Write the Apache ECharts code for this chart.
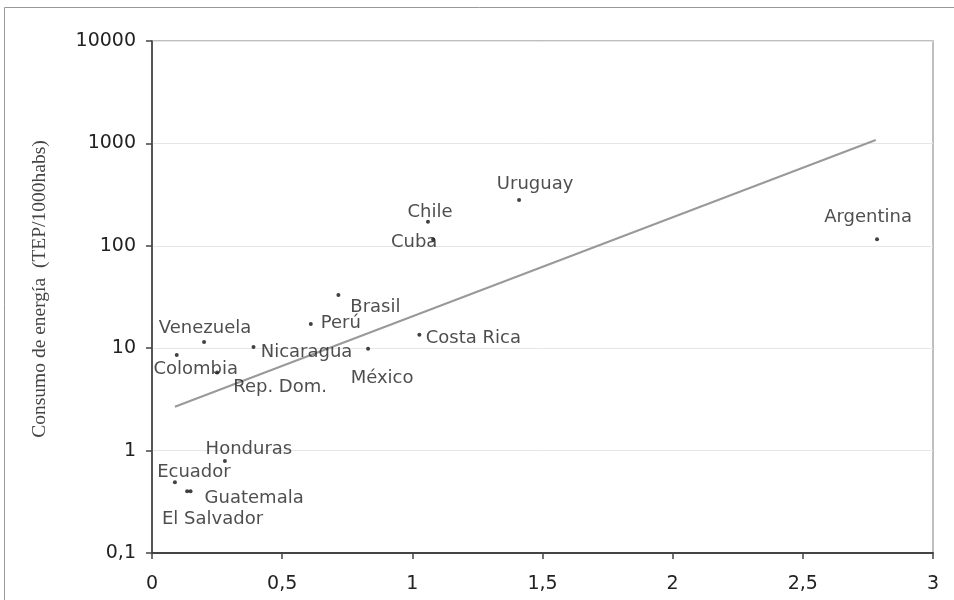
<!DOCTYPE html>
<html>
<head>
<meta charset="utf-8">
<script src="https://cdn.jsdelivr.net/npm/echarts@6/dist/echarts.min.js"></script>
<style>html,body{margin:0;padding:0;background:#fff}#c{width:954px;height:600px}</style>
</head>
<body>
<div id="c"></div>
<script>
// Data
const countries = ['Venezuela','Colombia','Rep. Dom.','Nicaragua','Perú','México','Honduras','Ecuador','Guatemala','El Salvador','Brasil','Costa Rica','Chile','Cuba','Uruguay','Argentina'];
const xValues = [0.20, 0.095, 0.25, 0.39, 0.61, 0.83, 0.28, 0.088, 0.135, 0.148, 0.716, 1.027, 1.06, 1.08, 1.41, 2.785];
const yValues = [11.5, 8.6, 5.8, 10.3, 17.2, 9.9, 0.79, 0.49, 0.40, 0.40, 33, 13.5, 172, 115, 280, 116];
const trendX = [0.088, 2.78];
const trendY = [2.68, 1080];
const xTicks = ['0','0,5','1','1,5','2','2,5','3'];
const yTicks = ['0,1','1','10','100','1000','10000'];

// Label placement (style): offset of label centre from the dot, in px
const labelOffsets = {
  'Venezuela':[1,-14],'Colombia':[19,14],'Rep. Dom.':[63,15],'Nicaragua':[53,5],
  'Perú':[30,-1],'México':[14,30],'Honduras':[24,-12],'Ecuador':[19,-10],
  'Guatemala':[67,7],'El Salvador':[22,28],'Brasil':[37,12],'Costa Rica':[54,3],
  'Chile':[2,-9],'Cuba':[-19,3],'Uruguay':[16,-16],'Argentina':[-9,-22]
};

const points = countries.map((n,i)=>({
  name:n, value:[xValues[i], yValues[i]],
  label:{show:true, formatter:n, position:'inside', offset:labelOffsets[n], align:'center', verticalAlign:'middle'}
}));

const chart = echarts.init(document.getElementById('c'), null, {renderer:'canvas'});
chart.setOption({
  animation:false,
  backgroundColor:'#fff',
  graphic:[{type:'rect', shape:{x:4.5, y:7.5, width:1200, height:1000}, style:{fill:'none', stroke:'#999', lineWidth:1}, z:-1}],
  grid:{left:152, right:21, top:41, bottom:47, show:true, borderColor:'#aaa', borderWidth:1.5, backgroundColor:'transparent'},
  xAxis:{
    type:'value', min:0, max:3, interval:0.5,
    axisLine:{show:true, lineStyle:{color:'#444', width:2}},
    axisTick:{show:true, length:6, lineStyle:{color:'#444', width:1.5}},
    axisLabel:{margin:22, fontFamily:'DejaVu Sans', fontSize:19, color:'#222',
      formatter:(v)=>xTicks[Math.round(v/0.5)]},
    splitLine:{show:false}
  },
  yAxis:{
    type:'log', logBase:10, min:0.1, max:10000,
    name:'Consumo de energía  (TEP/1000habs)', nameLocation:'middle', nameGap:102,
    nameTextStyle:{fontFamily:'Liberation Serif', fontSize:19.5, color:'#444', padding:[0,0,0,16]},
    axisLine:{show:true, lineStyle:{color:'#333', width:1.5}},
    axisTick:{show:true, length:6, lineStyle:{color:'#444', width:1.5}},
    axisLabel:{margin:16, fontFamily:'DejaVu Sans', fontSize:19, color:'#222',
      formatter:(v)=>yTicks[Math.round(Math.log10(v))+1]},
    splitLine:{show:true, lineStyle:{color:'#e6e6e6', width:1}},
    minorTick:{show:false}
  },
  series:[
    {type:'line', data:trendX.map((x,i)=>[x, trendY[i]]), symbol:'none', silent:true,
      lineStyle:{color:'#999', width:2}, z:2},
    {type:'scatter', data:points, symbol:'circle', symbolSize:4,
      itemStyle:{color:'#111'},
      label:{fontFamily:'DejaVu Sans', fontSize:18, color:'#222'}, z:3}
  ]
});
</script>
</body>
</html>
